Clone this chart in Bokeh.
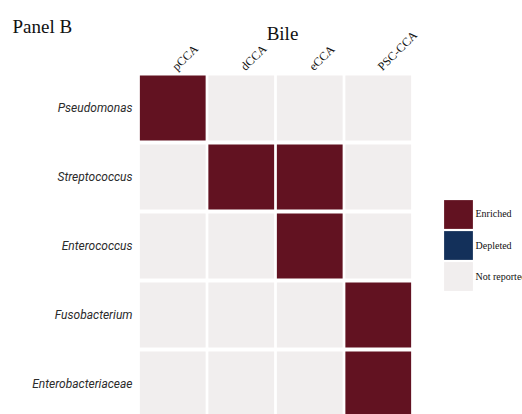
import math
from bokeh.plotting import figure
from bokeh.models import (ColumnDataSource, CDSView, GroupFilter, Range1d, Legend, LegendItem)
from bokeh.core.properties import value
from bokeh.embed import file_html
from bokeh.resources import INLINE

# ---- data ----
panel_title = "Panel B"
group_title = "Bile"
columns = ["pCCA", "dCCA", "eCCA", "PSC-CCA"]
taxa = ["Pseudomonas", "Streptococcus", "Enterococcus", "Fusobacterium", "Enterobacteriaceae"]
status_pseudomonas = ["Enriched", "Not reported", "Not reported", "Not reported"]
status_streptococcus = ["Not reported", "Enriched", "Enriched", "Not reported"]
status_enterococcus = ["Not reported", "Not reported", "Enriched", "Not reported"]
status_fusobacterium = ["Not reported", "Not reported", "Not reported", "Enriched"]
status_enterobacteriaceae = ["Not reported", "Not reported", "Not reported", "Enriched"]
categories = ["Enriched", "Depleted", "Not reported"]
colors = {"Enriched": "#621221", "Depleted": "#13305a", "Not reported": "#f1eeee"}

matrix = [status_pseudomonas, status_streptococcus, status_enterococcus,
          status_fusobacterium, status_enterobacteriaceae]
xs, ys, st = [], [], []
for i, row in enumerate(matrix):
    for j, s in enumerate(row):
        xs.append(j); ys.append(i); st.append(s)
src = ColumnDataSource(dict(col=xs, row=ys, status=st))

W, H = 522, 414
# scale: one column = 68.5 px, first column centre at 172.25 px; one row = 69 px, first row centre at 107.5 px
x0, dx = 172.25, 68.5
y0, dy = 107.5, 69.0
p = figure(width=W, height=H, output_backend="svg", toolbar_location=None,
           x_range=Range1d(-x0 / dx, (W - x0) / dx),
           y_range=Range1d((H - y0) / dy, -y0 / dy),
           min_border=0)
p.min_border_left = p.min_border_right = p.min_border_top = p.min_border_bottom = 0
p.outline_line_color = None
p.grid.visible = False
p.axis.visible = False
p.background_fill_color = "white"

renderers = {}
for c in categories:
    present = c in st
    # a category with no cells still needs a legend swatch: draw it over all cells at zero size
    renderers[c] = p.rect(x="col", y="row", width=0.96 if present else 0,
                          height=0.945 if present else 0, source=src,
                          view=CDSView(filter=GroupFilter(column_name="status", group=c)) if present else CDSView(),
                          fill_color=colors[c], line_color=None)

# row labels (left)
p.text(x=[(132 - x0) / dx] * len(taxa), y=list(range(len(taxa))), text=taxa,
       text_font=value("Roboto"), text_font_style="italic", text_font_size="12px",
       text_color="#2b2b2b", text_align="right", text_baseline="middle")

# column labels (top, rotated)
p.text(x=list(range(len(columns))), y=[(68 - y0) / dy] * len(columns), text=columns,
       x_offset=1.5, angle=math.pi / 4,
       text_font=value("Liberation Serif"), text_font_size="12px",
       text_color="#111111", text_align="left", text_baseline="middle")

# group title and panel title
p.text(x=[(282 - x0) / dx], y=[(33 - y0) / dy], text=[group_title],
       text_font=value("Liberation Serif"), text_font_size="19px",
       text_color="#111111", text_align="center", text_baseline="alphabetic")
p.text(x=[(12 - x0) / dx], y=[(26 - y0) / dy], text=[panel_title],
       text_font=value("Liberation Serif"), text_font_size="19px",
       text_color="#111111", text_align="left", text_baseline="alphabetic")

# legend: one entry per box so the swatches sit 31 px apart (swatch drawn at 80% of 36 px box)
for k, c in enumerate(categories):
    swatch_top = 199.5 + 31.2 * k
    leg = Legend(items=[LegendItem(label=c, renderers=[renderers[c]])],
                 location=(439.5, H - swatch_top - 32.4), glyph_width=36, glyph_height=36,
                 padding=0, spacing=0, margin=0, label_standoff=-1,
                 label_text_font="Liberation Serif", label_text_font_size="10px",
                 label_text_color="#111111", background_fill_alpha=0, border_line_color=None)
    p.add_layout(leg, "center")

open("out.html", "w").write(file_html(p, INLINE))
